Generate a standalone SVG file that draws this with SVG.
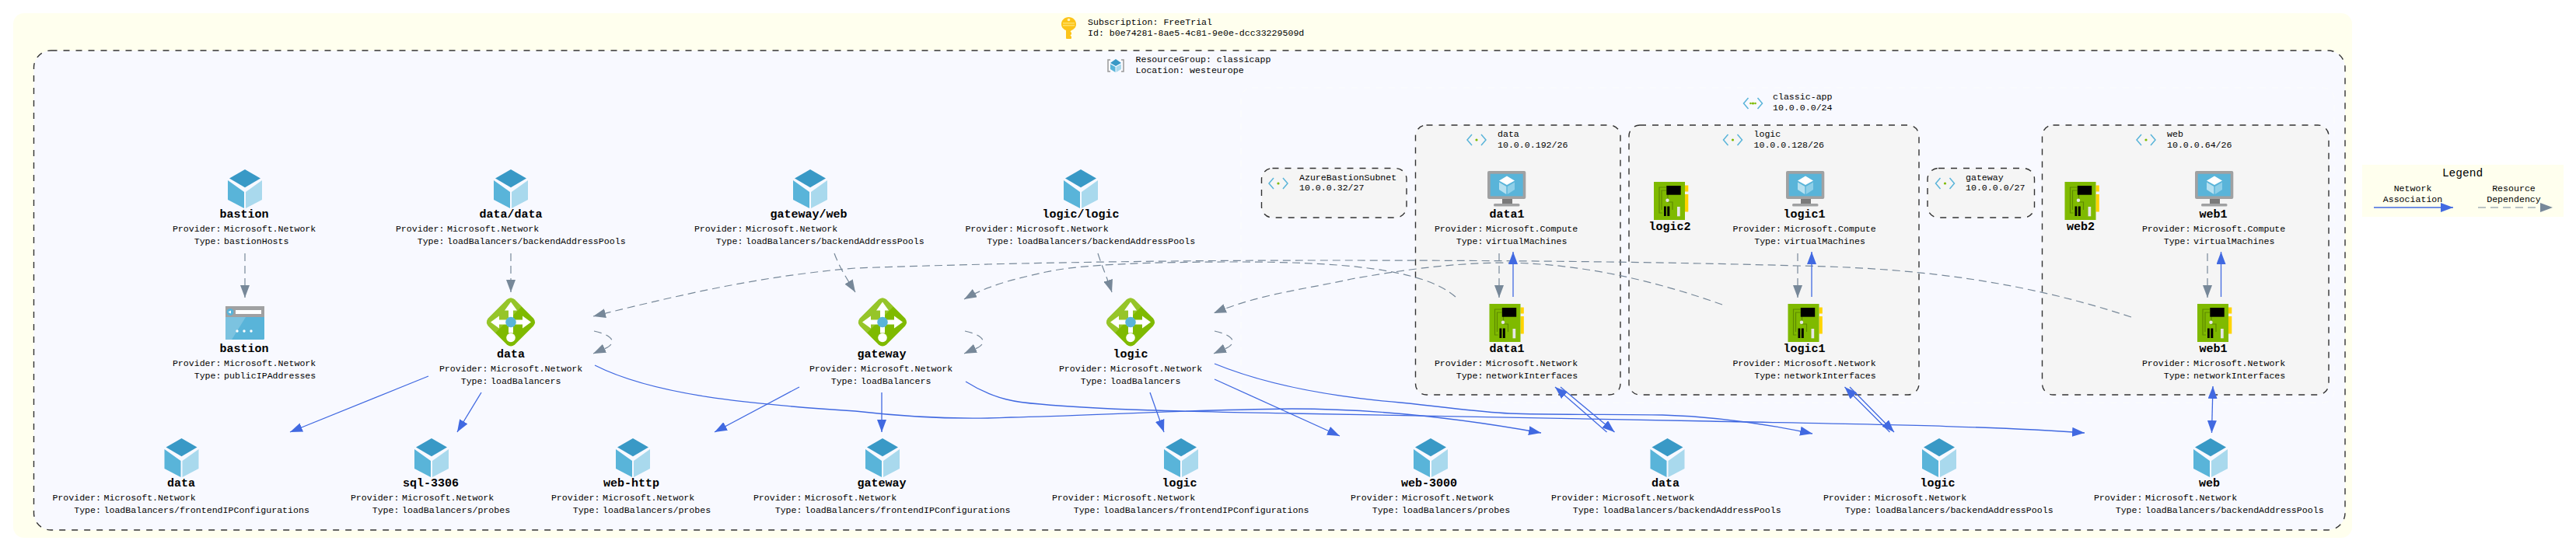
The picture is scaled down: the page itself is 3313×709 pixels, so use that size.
<svg xmlns="http://www.w3.org/2000/svg" width="3313" height="709" viewBox="0 0 3313 709">
<style>
text{font-family:"Liberation Mono","DejaVu Sans Mono",monospace;font-size:11.6px;fill:#000}
.n{font-size:15px;font-weight:bold;text-anchor:middle}
.k{text-anchor:end}
.m{text-anchor:middle}
.box{stroke:#333;stroke-width:1.4;stroke-dasharray:8 8}
.sub{fill:#f5f5f5}
.b{fill:none;stroke:#4169e1;stroke-width:1.3;marker-end:url(#ab)}
.bb{marker-start:url(#ab)}
.g{fill:none;stroke:#778899;stroke-width:1.2;stroke-dasharray:10 6;marker-end:url(#ag)}
</style>
<defs>
<marker id="ab" markerUnits="userSpaceOnUse" markerWidth="16" markerHeight="12" refX="16" refY="6" orient="auto-start-reverse"><path d="M0 0L16 6L0 12Z" fill="#4169e1"/></marker>
<marker id="ag" markerUnits="userSpaceOnUse" markerWidth="16" markerHeight="12" refX="16" refY="6" orient="auto-start-reverse"><path d="M0 0L16 6L0 12Z" fill="#778899"/></marker>
<g id="cube">
<path d="M0 0L20 23L0 46.500L-20 23Z" transform="scale(1 .5)" fill="#3999c6"/>
<path d="M-22 14L-1 29V50L-22 39Z" fill="#59b4d9"/>
<path d="M22 14L1 29V50L22 39Z" fill="#a9d9ed"/>
</g>
<g id="lb">
<path d="M-5 -29Q0 -33 5 -29L29 -5Q33 0 29 5L5 29Q0 33 -5 29L-29 5Q-33 0 -29 -5Z" fill="#7fba00"/>
<path d="M-5 -29Q0 -33 5 -29L14 -20L-20 14L-29 5Q-33 0 -29 -5Z" fill="#a0ca3a" opacity=".7"/>
<path d="M0 -26L8 -15H3V-3H15V-8L26 0L15 8V3H3V14H-3V3H-15V8L-26 0L-15 -8V-3H-3V-15H-8Z" fill="#fff"/>
<circle r="6.800" fill="#59b4d9"/>
<circle cy="20" r="5.800" fill="#fff"/>
</g>
<g id="vm">
<rect width="49.300" height="36" rx="2" fill="#a0a1a2"/>
<rect x="3.700" y="3.700" width="42" height="28.700" fill="#59b4d9"/>
<path d="M19 36H32V42H19Z" fill="#7a7a7a"/>
<rect x="8" y="42" width="33.500" height="3.600" rx="1.500" fill="#a0a1a2"/>
<path d="M25 6.500L35 12.500L25 18L15 12.500Z" fill="#fff"/>
<path d="M15 14.500L24.300 20V30L15 24Z" fill="#b5e0f0"/>
<path d="M35 14.500L25.700 20V30L35 24Z" fill="#8fcfe8"/>
</g>
<g id="nic">
<rect x="40" y="4.500" width="4.300" height="8" fill="#ffd400"/>
<rect x="40" y="16" width="4.300" height="22.500" fill="#ffd400"/>
<rect width="40" height="49" fill="#7fba00"/>
<path d="M16 7H7V40H11M16 11H10V36M18 16V26H24V36" fill="none" stroke="#5e8a00" stroke-width="1.200"/>
<rect x="16.300" y="5" width="18.400" height="11.700" fill="#000"/>
<rect x="13" y="31.500" width="2.800" height="12.500" fill="#000"/>
<rect x="17.300" y="31.500" width="3" height="12.500" fill="#000"/>
<rect x="30" y="32" width="3.700" height="12.300" fill="#e6e6e6"/>
<circle cx="17.500" cy="23.700" r="2.200" fill="#e6e6e6"/>
</g>
<g id="pip">
<rect width="50" height="43" rx="1.500" fill="#59b4d9"/>
<path d="M0 0H50V14H0Z" fill="#a0a1a2"/>
<path d="M0 14H26L8 43H0Z" fill="#7cc3e0"/>
<rect x="13" y="5" width="33" height="5" fill="#fff"/>
<circle cx="6" cy="7.500" r="4.500" fill="#59b4d9"/>
<path d="M3.500 7.500L7 5.500V9.500Z" fill="#fff"/>
<circle cx="15" cy="32" r="1.700" fill="#fff"/><circle cx="24" cy="32" r="1.700" fill="#fff"/><circle cx="33" cy="32" r="1.700" fill="#fff"/>
</g>
<g id="sn">
<path d="M-6 -7L-12 0L-6 7M6 -7L12 0L6 7" fill="none" stroke="#59b4d9" stroke-width="1.500"/>
<circle r="1.600" fill="#7fba00"/>
</g>
</defs>

<g id="subscription">
<rect x="17" y="17" width="3008" height="675" rx="14" fill="#ffffee"/>
<path d="M1374.500 22C1369 22 1365 26 1365 31C1365 35 1367.500 37.500 1371 39V49Q1371 50 1372 50H1377Q1378 50 1378 49V47L1376.500 45.500L1378 44V42L1376.500 40.500L1378 39C1381.500 37.500 1384 35 1384 31C1384 26 1380 22 1374.500 22Z" fill="#fcc419"/>
<circle cx="1374.500" cy="25.500" r="1.800" fill="#fff3bf"/>
<rect x="1367" y="29" width="15" height="1.500" fill="#ffe066"/><rect x="1367" y="32" width="15" height="1.500" fill="#ffe066"/>
<text x="1399" y="32">Subscription: FreeTrial</text>
<text x="1399" y="46">Id: b0e74281-8ae5-4c81-9e0e-dcc33229509d</text>
</g>

<g id="resource-group">
<rect class="box" x="43.500" y="65" width="2972.500" height="617" rx="22" fill="#f8f9ff"/>
<path d="M1428 77H1425V92H1428M1442 77H1445V92H1442" fill="none" stroke="#999" stroke-width="1.500"/>
<path d="M1435 76L1442 81L1435 85L1428 81Z" fill="#3999c6"/>
<path d="M1428 82.500L1434.500 86V93L1428 89Z" fill="#59b4d9"/>
<path d="M1442 82.500L1435.500 86V93L1442 89Z" fill="#a9d9ed"/>
<text x="1460.500" y="80">ResourceGroup: classicapp</text>
<text x="1460.500" y="94">Location: westeurope</text>
</g>

<g id="vnet-classic-app">
<rect x="1596" y="113" width="1406" height="405" rx="14" fill="none" stroke="#fcfdfc" stroke-width="1" stroke-dasharray="8 8"/>
<use href="#sn" x="2254.500" y="133"/>
<circle cx="2251.500" cy="133" r="1.300" fill="#7fba00"/><circle cx="2257.500" cy="133" r="1.300" fill="#7fba00"/>
<text x="2280" y="128">classic-app</text>
<text x="2280" y="142">10.0.0.0/24</text>
</g>

<g id="subnet-bastion">
<rect class="box sub" x="1622.500" y="216.500" width="186.500" height="63.500" rx="14"/>
<use href="#sn" x="1644" y="236"/>
<text x="1671" y="232">AzureBastionSubnet</text>
<text x="1671" y="245">10.0.0.32/27</text>
</g>
<g id="subnet-data">
<rect class="box sub" x="1820.500" y="161" width="263.500" height="347" rx="14"/>
<use href="#sn" x="1899" y="180"/>
<text x="1926" y="176">data</text>
<text x="1926" y="190">10.0.0.192/26</text>
</g>
<g id="subnet-logic">
<rect class="box sub" x="2095" y="161" width="373" height="347" rx="14"/>
<use href="#sn" x="2228.500" y="180"/>
<text x="2255.500" y="176">logic</text>
<text x="2255.500" y="190">10.0.0.128/26</text>
</g>
<g id="subnet-gateway">
<rect class="box sub" x="2479" y="216.500" width="137.500" height="63.500" rx="14"/>
<use href="#sn" x="2501.500" y="236"/>
<text x="2528" y="232">gateway</text>
<text x="2528" y="245">10.0.0.0/27</text>
</g>
<g id="subnet-web">
<rect class="box sub" x="2626.500" y="161" width="368.500" height="347" rx="14"/>
<use href="#sn" x="2760" y="180"/>
<text x="2787" y="176">web</text>
<text x="2787" y="190">10.0.0.64/26</text>
</g>

<g id="connectors">
<path class="g" d="M315 326V383"/>
<path class="g" d="M657 326V376"/>
<path class="g" d="M1073 326C1080 345 1090 360 1100 376"/>
<path class="g" d="M1412 326C1418 345 1425 360 1430 376"/>
<path class="g" d="M1928 326V383"/>
<path class="g" d="M2312 326V383"/>
<path class="g" d="M2839 326V383"/>
<path class="g" d="M2741 408C2610 365 2480 345 2313 342C2100 336 1900 335 1700 335C1500 335 1300 338 1100 345C980 355 880 378 763 407"/>
<path class="g" d="M1872 382C1830 345 1720 337 1591 337C1480 337 1390 340 1345 350C1310 358 1275 365 1240 385"/>
<path class="g" d="M2215 392C2130 362 2040 340 1940 338C1860 338 1790 350 1738 359C1680 372 1620 378 1561 403"/>
<path class="g" d="M764 426C778 429 788 434 787 440C786 447 776 449 763 455"/>
<path class="g" d="M1241 426C1255 429 1265 434 1264 440C1263 447 1253 449 1240 455"/>
<path class="g" d="M1562 426C1576 429 1586 434 1585 440C1584 447 1574 449 1561 455"/>
<path class="b" d="M1946 382V324"/>
<path class="b" d="M2330 382V324"/>
<path class="b" d="M2856.500 382V324"/>
<path class="b" d="M551 484L373 556"/>
<path class="b" d="M619 505L588 556"/>
<path class="b" d="M1028 498L919 556"/>
<path class="b" d="M1134 505V556"/>
<path class="b" d="M1479 505L1497 556"/>
<path class="b" d="M1562 488L1723 561"/>
<path class="b" d="M765 470C840 508 960 520 1100 529C1170 537 1240 540 1300 537C1400 535 1500 528 1661 526C1760 526 1860 535 1982 557"/>
<path class="b" d="M1242 491C1280 515 1310 518 1338 520C1420 528 1560 530 1661 532C1800 535 1950 536 2200 542C2400 546 2560 548 2681 557"/>
<path class="b" d="M1562 468C1640 500 1730 512 1801 518C1870 525 1900 530 1942 532C2000 534 2080 533 2138 534C2200 536 2270 545 2331 558"/>
<path class="b" d="M2007 498L2076.500 556"/>
<path class="b" d="M2066.500 556L2000 498"/>
<path class="b" d="M2379 498L2436 556"/>
<path class="b" d="M2430.500 556L2372.500 498"/>
<path class="b bb" d="M2846 497L2844.500 557"/>
</g>

<g id="n-bastion-hosts"><use href="#cube" x="315" y="218"/><text class="n" x="314" y="280">bastion</text><text class="k" x="284.500" y="298">Provider:</text><text x="288" y="298">Microsoft.Network</text><text class="k" x="284.500" y="314">Type:</text><text x="288" y="314">bastionHosts</text></g>
<g id="n-data-data"><use href="#cube" x="657" y="218"/><text class="n" x="657" y="280">data/data</text><text class="k" x="571.500" y="298">Provider:</text><text x="575" y="298">Microsoft.Network</text><text class="k" x="571.500" y="314">Type:</text><text x="575" y="314">loadBalancers/backendAddressPools</text></g>
<g id="n-gateway-web"><use href="#cube" x="1042" y="218"/><text class="n" x="1040" y="280">gateway/web</text><text class="k" x="955.500" y="298">Provider:</text><text x="959" y="298">Microsoft.Network</text><text class="k" x="955.500" y="314">Type:</text><text x="959" y="314">loadBalancers/backendAddressPools</text></g>
<g id="n-logic-logic"><use href="#cube" x="1390" y="218"/><text class="n" x="1390" y="280">logic/logic</text><text class="k" x="1304" y="298">Provider:</text><text x="1307.500" y="298">Microsoft.Network</text><text class="k" x="1304" y="314">Type:</text><text x="1307.500" y="314">loadBalancers/backendAddressPools</text></g>

<g id="n-bastion-ip"><use href="#pip" x="290" y="394"/><text class="n" x="314" y="453">bastion</text><text class="k" x="284.500" y="471">Provider:</text><text x="288" y="471">Microsoft.Network</text><text class="k" x="284.500" y="487">Type:</text><text x="288" y="487">publicIPAddresses</text></g>
<g id="n-lb-data"><use href="#lb" x="657" y="414.500"/><text class="n" x="657" y="460">data</text><text class="k" x="627.500" y="478">Provider:</text><text x="631" y="478">Microsoft.Network</text><text class="k" x="627.500" y="494">Type:</text><text x="631" y="494">loadBalancers</text></g>
<g id="n-lb-gateway"><use href="#lb" x="1135" y="414.500"/><text class="n" x="1134" y="460">gateway</text><text class="k" x="1103.500" y="478">Provider:</text><text x="1107" y="478">Microsoft.Network</text><text class="k" x="1103.500" y="494">Type:</text><text x="1107" y="494">loadBalancers</text></g>
<g id="n-lb-logic"><use href="#lb" x="1454" y="414.500"/><text class="n" x="1454" y="460">logic</text><text class="k" x="1424.500" y="478">Provider:</text><text x="1428" y="478">Microsoft.Network</text><text class="k" x="1424.500" y="494">Type:</text><text x="1428" y="494">loadBalancers</text></g>

<g id="n-vm-data1"><use href="#vm" x="1913" y="220"/><text class="n" x="1938" y="280">data1</text><text class="k" x="1907.500" y="298">Provider:</text><text x="1911" y="298">Microsoft.Compute</text><text class="k" x="1907.500" y="314">Type:</text><text x="1911" y="314">virtualMachines</text></g>
<g id="n-nic-data1"><use href="#nic" x="1915.500" y="391"/><text class="n" x="1938" y="453">data1</text><text class="k" x="1907.500" y="471">Provider:</text><text x="1911" y="471">Microsoft.Network</text><text class="k" x="1907.500" y="487">Type:</text><text x="1911" y="487">networkInterfaces</text></g>
<g id="n-nic-logic2"><use href="#nic" x="2127" y="234"/><text class="n" x="2147.500" y="296">logic2</text></g>
<g id="n-vm-logic1"><use href="#vm" x="2297" y="220"/><text class="n" x="2320.500" y="280">logic1</text><text class="k" x="2291" y="298">Provider:</text><text x="2294.500" y="298">Microsoft.Compute</text><text class="k" x="2291" y="314">Type:</text><text x="2294.500" y="314">virtualMachines</text></g>
<g id="n-nic-logic1"><use href="#nic" x="2299.500" y="391"/><text class="n" x="2320.500" y="453">logic1</text><text class="k" x="2291" y="471">Provider:</text><text x="2294.500" y="471">Microsoft.Network</text><text class="k" x="2291" y="487">Type:</text><text x="2294.500" y="487">networkInterfaces</text></g>
<g id="n-nic-web2"><use href="#nic" x="2655.500" y="234"/><text class="n" x="2676" y="296">web2</text></g>
<g id="n-vm-web1"><use href="#vm" x="2823" y="220"/><text class="n" x="2846.500" y="280">web1</text><text class="k" x="2817.500" y="298">Provider:</text><text x="2821" y="298">Microsoft.Compute</text><text class="k" x="2817.500" y="314">Type:</text><text x="2821" y="314">virtualMachines</text></g>
<g id="n-nic-web1"><use href="#nic" x="2826" y="391"/><text class="n" x="2846.500" y="453">web1</text><text class="k" x="2817.500" y="471">Provider:</text><text x="2821" y="471">Microsoft.Network</text><text class="k" x="2817.500" y="487">Type:</text><text x="2821" y="487">networkInterfaces</text></g>

<g id="n-fe-data"><use href="#cube" x="233.500" y="564"/><text class="n" x="233" y="626">data</text><text class="k" x="130" y="644">Provider:</text><text x="133.500" y="644">Microsoft.Network</text><text class="k" x="130" y="660">Type:</text><text x="133.500" y="660">loadBalancers/frontendIPConfigurations</text></g>
<g id="n-probe-sql"><use href="#cube" x="555" y="564"/><text class="n" x="554" y="626">sql-3306</text><text class="k" x="513.500" y="644">Provider:</text><text x="517" y="644">Microsoft.Network</text><text class="k" x="513.500" y="660">Type:</text><text x="517" y="660">loadBalancers/probes</text></g>
<g id="n-probe-web-http"><use href="#cube" x="814" y="564"/><text class="n" x="812" y="626">web-http</text><text class="k" x="771.500" y="644">Provider:</text><text x="775" y="644">Microsoft.Network</text><text class="k" x="771.500" y="660">Type:</text><text x="775" y="660">loadBalancers/probes</text></g>
<g id="n-fe-gateway"><use href="#cube" x="1135" y="564"/><text class="n" x="1134" y="626">gateway</text><text class="k" x="1031.500" y="644">Provider:</text><text x="1035" y="644">Microsoft.Network</text><text class="k" x="1031.500" y="660">Type:</text><text x="1035" y="660">loadBalancers/frontendIPConfigurations</text></g>
<g id="n-fe-logic"><use href="#cube" x="1519" y="564"/><text class="n" x="1517" y="626">logic</text><text class="k" x="1415.500" y="644">Provider:</text><text x="1419" y="644">Microsoft.Network</text><text class="k" x="1415.500" y="660">Type:</text><text x="1419" y="660">loadBalancers/frontendIPConfigurations</text></g>
<g id="n-probe-web-3000"><use href="#cube" x="1840" y="564"/><text class="n" x="1838" y="626">web-3000</text><text class="k" x="1799.500" y="644">Provider:</text><text x="1803" y="644">Microsoft.Network</text><text class="k" x="1799.500" y="660">Type:</text><text x="1803" y="660">loadBalancers/probes</text></g>
<g id="n-be-data"><use href="#cube" x="2144.500" y="564"/><text class="n" x="2142" y="626">data</text><text class="k" x="2057.500" y="644">Provider:</text><text x="2061" y="644">Microsoft.Network</text><text class="k" x="2057.500" y="660">Type:</text><text x="2061" y="660">loadBalancers/backendAddressPools</text></g>
<g id="n-be-logic"><use href="#cube" x="2494" y="564"/><text class="n" x="2492" y="626">logic</text><text class="k" x="2407.500" y="644">Provider:</text><text x="2411" y="644">Microsoft.Network</text><text class="k" x="2407.500" y="660">Type:</text><text x="2411" y="660">loadBalancers/backendAddressPools</text></g>
<g id="n-be-web"><use href="#cube" x="2843" y="564"/><text class="n" x="2841.500" y="626">web</text><text class="k" x="2755.500" y="644">Provider:</text><text x="2759" y="644">Microsoft.Network</text><text class="k" x="2755.500" y="660">Type:</text><text x="2759" y="660">loadBalancers/backendAddressPools</text></g>

<g id="legend">
<rect x="3038" y="212" width="259" height="67" fill="#ffffee"/>
<text class="m" x="3167" y="227" style="font-size:14.500px">Legend</text>
<text class="m" x="3103" y="246">Network</text>
<text class="m" x="3103" y="260">Association</text>
<text class="m" x="3233" y="246">Resource</text>
<text class="m" x="3233" y="260">Dependency</text>
<path class="b" d="M3053 267H3155"/>
<path class="g" d="M3187 267H3283"/>
</g>
</svg>
